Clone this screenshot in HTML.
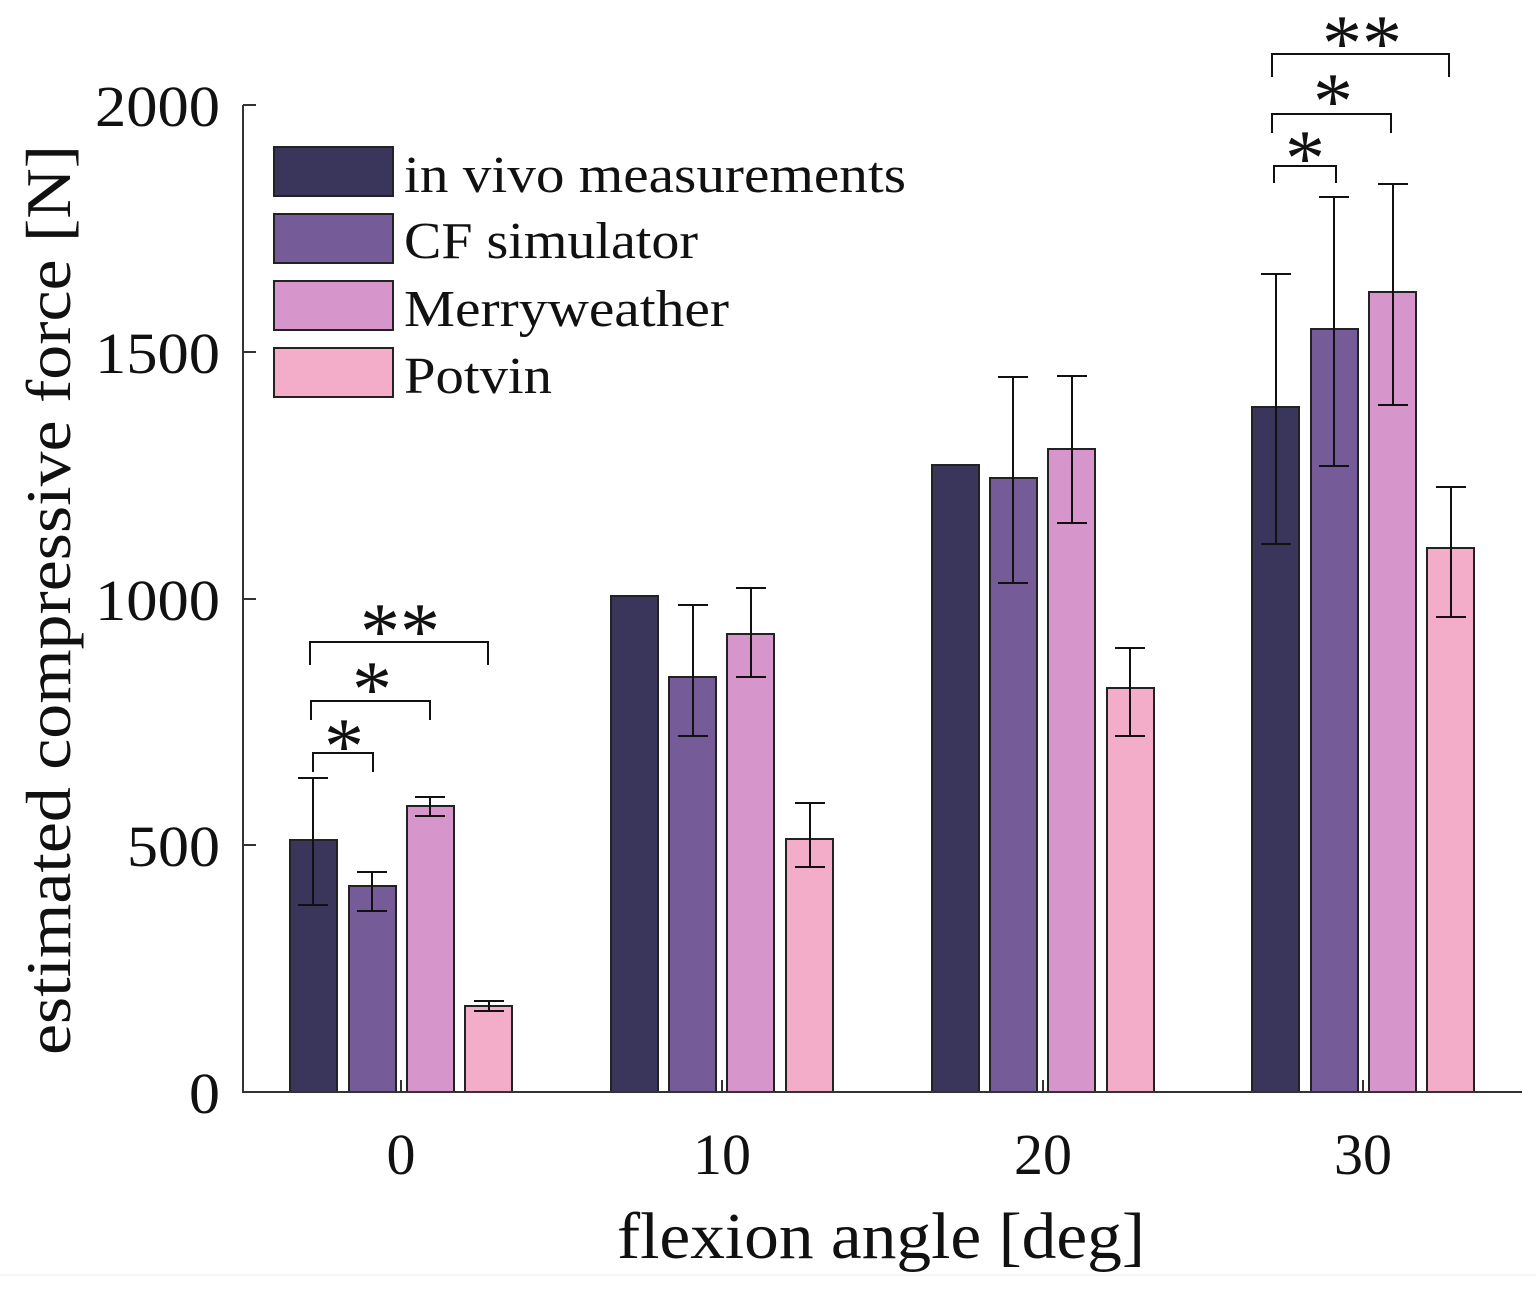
<!DOCTYPE html>
<html><head><style>body{margin:0;background:#fff}svg{display:block}</style></head><body>
<svg width="1536" height="1290" xmlns="http://www.w3.org/2000/svg" font-family="Liberation Serif, serif">
<g stroke="#222" stroke-width="2">
<rect x="290" y="840" width="47" height="252" fill="#3a355a"/>
<rect x="349" y="886" width="47" height="206" fill="#755c98"/>
<rect x="407" y="806" width="47" height="286" fill="#d696cc"/>
<rect x="465" y="1006" width="47" height="86" fill="#f3adc8"/>
<rect x="611" y="596" width="47" height="496" fill="#3a355a"/>
<rect x="669" y="677" width="47" height="415" fill="#755c98"/>
<rect x="727" y="634" width="47" height="458" fill="#d696cc"/>
<rect x="786" y="839" width="47" height="253" fill="#f3adc8"/>
<rect x="932" y="465" width="47" height="627" fill="#3a355a"/>
<rect x="990" y="478" width="47" height="614" fill="#755c98"/>
<rect x="1048" y="449" width="47" height="643" fill="#d696cc"/>
<rect x="1107" y="688" width="47" height="404" fill="#f3adc8"/>
<rect x="1252" y="407" width="47" height="685" fill="#3a355a"/>
<rect x="1311" y="329" width="47" height="763" fill="#755c98"/>
<rect x="1369" y="292" width="47" height="800" fill="#d696cc"/>
<rect x="1427" y="548" width="47" height="544" fill="#f3adc8"/>
</g>
<g stroke="#111" stroke-width="2" fill="none">
<path d="M313 778V905M298 778H328M298 905H328"/>
<path d="M372 872V911M357 872H387M357 911H387"/>
<path d="M430 797V816M415 797H445M415 816H445"/>
<path d="M489 1001V1011M474 1001H504M474 1011H504"/>
<path d="M693 605V736M678 605H708M678 736H708"/>
<path d="M751 588V677M736 588H766M736 677H766"/>
<path d="M810 803V867M795 803H825M795 867H825"/>
<path d="M1013 377V583M998 377H1028M998 583H1028"/>
<path d="M1072 376V523M1057 376H1087M1057 523H1087"/>
<path d="M1130 648V736M1115 648H1145M1115 736H1145"/>
<path d="M1276 274V544M1261 274H1291M1261 544H1291"/>
<path d="M1334 197V466M1319 197H1349M1319 466H1349"/>
<path d="M1393 184V405M1378 184H1408M1378 405H1408"/>
<path d="M1451 487V617M1436 487H1466M1436 617H1466"/>
<path d="M313 772V753H373V772M311 720V701H430V720M310 665V642H488V665"/>
<path d="M1274 183V166H1336V183M1272 133V114H1391V133M1272 77V54H1449V77"/>
</g>
<g stroke="#333" stroke-width="2" fill="none">
<path d="M243 105V1092H1522"/>
<path d="M243 105H256M243 352H256M243 599H256M243 845H256M243 1092H256"/>
<path d="M401 1092V1080M722 1092V1080M1043 1092V1080M1363 1092V1080"/>
</g>
<line x1="0" y1="1275" x2="1536" y2="1275" stroke="#eee" stroke-width="1"/>
<g font-size="80" text-anchor="middle" fill="#111">
<text x="344" y="773">*</text><text x="372" y="716">*</text><text x="400" y="658">**</text>
<text x="1305" y="185">*</text><text x="1333" y="128">*</text><text x="1362" y="70">**</text>
</g>
<g font-size="58" fill="#111">
<text x="95" y="126" textLength="125" lengthAdjust="spacingAndGlyphs">2000</text>
<text x="95" y="373" textLength="125" lengthAdjust="spacingAndGlyphs">1500</text>
<text x="95" y="620" textLength="125" lengthAdjust="spacingAndGlyphs">1000</text>
<text x="127" y="866" textLength="93" lengthAdjust="spacingAndGlyphs">500</text>
<text x="189" y="1113" textLength="31" lengthAdjust="spacingAndGlyphs">0</text>
</g>
<g font-size="58" text-anchor="middle" fill="#111">
<text x="401" y="1174">0</text><text x="722" y="1174">10</text><text x="1043" y="1174">20</text><text x="1363" y="1174">30</text>
</g>
<text x="617" y="1258" font-size="66" textLength="528" lengthAdjust="spacingAndGlyphs" fill="#111">flexion angle [deg]</text>
<text transform="translate(70,1055) rotate(-90)" font-size="64" textLength="910" lengthAdjust="spacingAndGlyphs" fill="#111">estimated compressive force [N]</text>
<g stroke="#222" stroke-width="2">
<rect x="274" y="147" width="119" height="49" fill="#3a355a"/>
<rect x="274" y="214" width="119" height="49" fill="#755c98"/>
<rect x="274" y="281" width="119" height="49" fill="#d696cc"/>
<rect x="274" y="348" width="119" height="49" fill="#f3adc8"/>
</g>
<g font-size="52" fill="#111">
<text x="404" y="192" textLength="502" lengthAdjust="spacingAndGlyphs">in vivo measurements</text>
<text x="404" y="258" textLength="294" lengthAdjust="spacingAndGlyphs">CF simulator</text>
<text x="404" y="326" textLength="325" lengthAdjust="spacingAndGlyphs">Merryweather</text>
<text x="404" y="393" textLength="148" lengthAdjust="spacingAndGlyphs">Potvin</text>
</g>
</svg>
</body></html>
